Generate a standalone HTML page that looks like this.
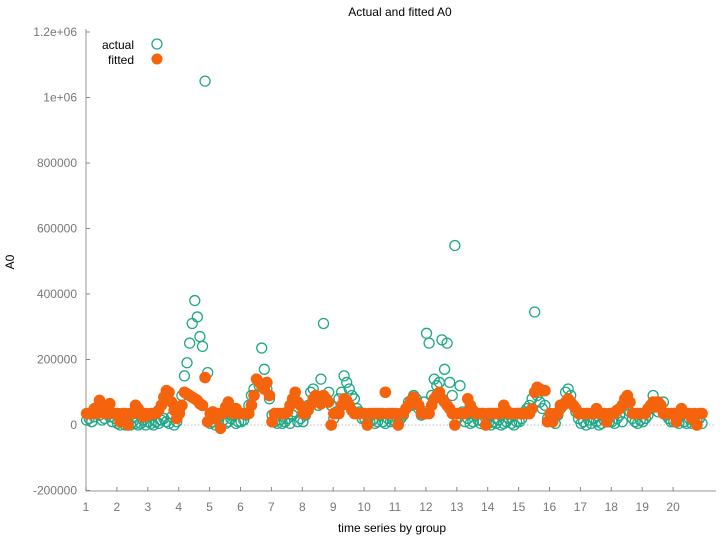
<!DOCTYPE html>
<html><head><meta charset="utf-8"><style>
html,body{margin:0;padding:0;background:#fff;}
svg{display:block;font-family:"Liberation Sans",sans-serif;}
</style></head><body>
<svg id="chart" width="723" height="541" viewBox="0 0 723 541">
<text x="400" y="16" font-size="12" text-anchor="middle" fill="#000">Actual and fitted A0</text>
<text x="14" y="262" font-size="12" text-anchor="middle" transform="rotate(-90 14 262)" fill="#000">A0</text>
<text x="392" y="532" font-size="12" text-anchor="middle" fill="#000">time series by group</text>
<g id="axes"></g>
<g id="actual"></g>
<g id="fitted"></g>
<g>
<text x="134" y="49" font-size="12" text-anchor="end" fill="#000">actual</text>
<circle cx="157" cy="44" r="5" fill="none" stroke="#1fa888" stroke-width="1.3"/>
<text x="134" y="64" font-size="12" text-anchor="end" fill="#000">fitted</text>
<circle cx="157" cy="59" r="5.5" fill="#f5640c"/>
</g>
</svg>
<script>
// values in thousands, 12 observations per group
const groups = [1,2,3,4,5,6,7,8,9,10,11,12,13,14,15,16,17,18,19,20];
const actualValues = [
 [15,20,10,25,40,30,15,20,35,25,10,20],
 [5,0,10,0,5,0,10,5,0,5,15,0],
 [10,5,0,10,5,15,20,10,5,25,0,10],
 [40,90,150,190,250,310,380,330,270,240,1050,160],
 [5,10,0,20,30,15,5,10,20,30,5,10],
 [10,15,30,60,90,110,140,120,235,170,110,80],
 [30,10,5,15,5,10,20,5,30,40,10,20],
 [10,30,60,100,110,90,60,140,310,80,100,60],
 [20,40,80,100,150,130,110,90,80,50,40,20],
 [20,5,10,15,5,10,30,10,5,20,10,15],
 [10,5,20,30,50,70,60,90,80,50,30,70],
 [280,250,90,140,120,130,260,170,250,130,90,548],
 [20,120,40,10,20,5,10,30,15,5,10,20],
 [5,0,10,5,15,0,5,10,20,5,0,10],
 [10,20,40,50,60,80,345,90,70,50,60,20],
 [20,10,5,30,50,60,100,110,90,60,40,20],
 [5,10,0,15,5,20,10,0,5,15,30,10],
 [10,5,20,30,10,60,80,40,20,10,5,15],
 [10,20,30,50,90,70,40,60,70,30,20,10],
 [10,20,5,30,10,5,20,5,10,15,20,5]
];
const fittedValues = [
 [35,35,35,50,35,75,60,35,35,65,35,35],
 [35,10,35,35,0,35,35,60,50,35,25,35],
 [30,35,35,35,45,60,85,105,100,70,45,20],
 [35,60,100,95,90,85,80,75,65,60,145,10],
 [35,40,20,35,-10,35,55,70,45,35,50,35],
 [35,35,35,35,60,90,140,130,120,110,130,90],
 [10,35,35,35,35,35,40,60,80,100,70,60],
 [35,35,45,60,80,90,80,65,90,80,70,0],
 [35,35,35,60,80,75,60,45,35,35,35,35],
 [35,0,35,35,35,35,35,35,100,35,35,35],
 [35,0,35,35,50,60,75,85,70,60,35,35],
 [35,35,60,80,90,100,80,70,60,50,35,0],
 [35,35,35,35,80,60,45,35,35,35,35,0],
 [35,35,35,35,35,35,60,45,35,35,35,35],
 [35,35,35,35,35,50,100,115,110,105,105,10],
 [35,10,35,35,60,60,70,80,70,60,50,35],
 [35,35,35,35,35,35,50,35,35,35,10,35],
 [35,35,45,50,60,80,90,70,35,35,35,35],
 [35,35,50,60,70,55,70,60,35,35,35,35],
 [35,10,35,50,35,35,35,20,35,0,35,35]
];
const yTicks = [-200000,0,200000,400000,600000,800000,1000000,1200000];
const yTickLabels = ["-200000","0","200000","400000","600000","800000","1e+06","1.2e+06"];
const xTicks = [1,2,3,4,5,6,7,8,9,10,11,12,13,14,15,16,17,18,19,20];

const NS="http://www.w3.org/2000/svg";
const X0=86, X1=716, Ytop=33, Ybot=491;
function xs(v){return 86+(v-1)*30.9;}
function ys(v){return 425-v*65.5/200000;}
function mk(t,a,p){const e=document.createElementNS(NS,t);for(const k in a)e.setAttribute(k,a[k]);p.appendChild(e);return e;}
const ax=document.getElementById('axes');
let l=mk('line',{x1:X0,y1:Ytop-4,x2:X0,y2:Ybot,stroke:'#aaa','stroke-width':1.2},ax);


l=mk('line',{x1:X0,y1:Ybot,x2:X1,y2:Ybot,stroke:'#aaa','stroke-width':1.2},ax);


l=mk('line',{x1:X0,y1:ys(0),x2:X1,y2:ys(0),stroke:'#bbb','stroke-width':1,'stroke-dasharray':'1.5,2'},ax);


yTicks.forEach((v,i)=>{
 const y=ys(v);
 const t=mk('line',{x1:X0,y1:y,x2:X0+4,y2:y,stroke:'#888'},ax);
 
 
 const tx=mk('text',{x:X0-9,y:y+4,'font-size':12,'text-anchor':'end',fill:'#777'},ax);
 tx.textContent=yTickLabels[i];
 
 
});
xTicks.forEach(v=>{
 const x=xs(v);
 const t=mk('line',{x1:x,y1:Ybot,x2:x,y2:Ybot-4,stroke:'#888'},ax);
 
 
 const tx=mk('text',{x:x,y:511,'font-size':12,'text-anchor':'middle',fill:'#777'},ax);
 tx.textContent=v;
 
 
});
const ga=document.getElementById('actual'), gf=document.getElementById('fitted');
groups.forEach((g,gi)=>{
 const a=actualValues[gi], f=fittedValues[gi];
 a.forEach((v,i)=>{
  const c=mk('circle',{cx:xs(g+i/a.length+0.02),cy:ys(v*1000),r:5,fill:'none',stroke:'#1fa888','stroke-width':1.3},ga);
  
  
 });
 f.forEach((v,i)=>{
  const c=mk('circle',{cx:xs(g+i/f.length+0.02),cy:ys(v*1000),r:5.8,fill:'#f5640c'},gf);
  
  
 });
});
</script>
</body></html>
